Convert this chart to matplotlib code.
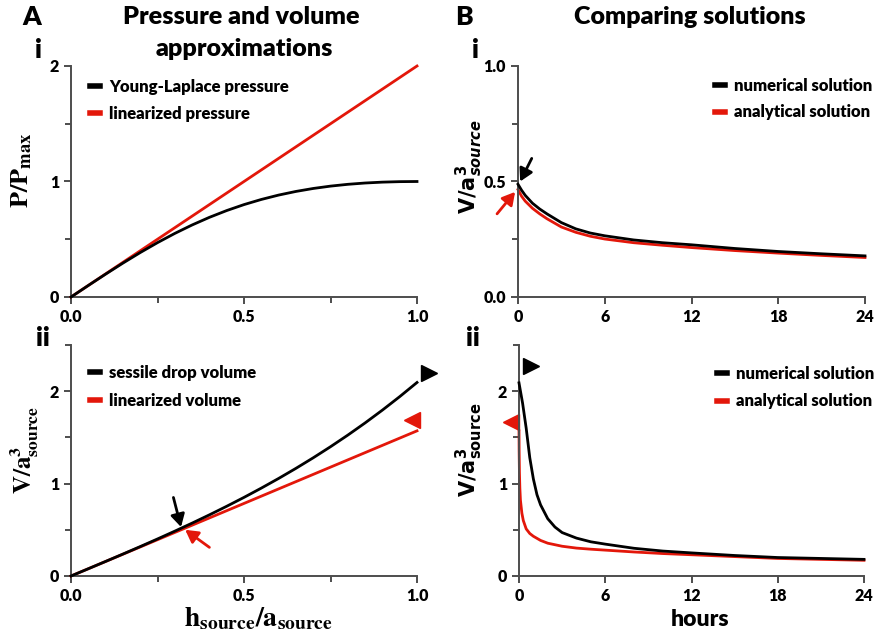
import matplotlib
matplotlib.use('Agg')
import matplotlib.pyplot as plt
from matplotlib.ticker import MultipleLocator

plt.rcParams['font.family'] = ['Lato', 'DejaVu Sans']
plt.rcParams['font.weight'] = 'heavy'

# ---------------- data ----------------
h_ratio = [0.0, 0.05, 0.1, 0.15, 0.2, 0.25, 0.3, 0.35, 0.4, 0.45, 0.5,
           0.55, 0.6, 0.65, 0.7, 0.75, 0.8, 0.85, 0.9, 0.95, 1.0]
young_laplace = [0.0, 0.0998, 0.198, 0.2934, 0.3846, 0.4706, 0.5505, 0.6236,
                 0.6897, 0.7484, 0.8, 0.8445, 0.8824, 0.9139, 0.9396, 0.96,
                 0.9756, 0.9869, 0.9945, 0.9987, 1.0]
lin_p_x = [0.0, 1.0]
lin_pressure = [0.0, 2.0]

sessile_volume = [0.0, 0.0786, 0.1576, 0.2374, 0.3183, 0.4009, 0.4854, 0.5722,
                  0.6618, 0.7546, 0.8508, 0.9511, 1.0556, 1.1648, 1.2791, 1.399,
                  1.5247, 1.6567, 1.7954, 1.9411, 2.0944]
lin_v_x = [0.0, 1.0]
lin_volume = [0.0, 1.5708]

t_i = [0, 0.25, 0.5, 1, 1.5, 2, 3, 4, 5, 6, 8, 10, 12, 15, 18, 21, 24]
num_i = [0.488, 0.462, 0.44, 0.406, 0.381, 0.36, 0.322, 0.295, 0.277, 0.265,
         0.247, 0.235, 0.226, 0.21, 0.197, 0.187, 0.178]
ana_i = [0.465, 0.436, 0.415, 0.384, 0.36, 0.339, 0.303, 0.28, 0.263, 0.251,
         0.235, 0.224, 0.214, 0.201, 0.19, 0.18, 0.171]

t_ii_num = [0, 0.25, 0.5, 0.75, 1, 1.25, 1.5, 2, 2.5, 3, 4, 5, 6, 8, 10, 12,
            15, 18, 21, 24]
num_ii = [2.09, 1.87, 1.6, 1.28, 1.05, 0.88, 0.77, 0.62, 0.53, 0.47, 0.41,
          0.37, 0.345, 0.3, 0.27, 0.25, 0.222, 0.2, 0.19, 0.18]
t_ii_ana = [0, 0.01, 0.03, 0.06, 0.1, 0.2, 0.3, 0.5, 0.75, 1, 1.5, 2, 3, 4, 5,
            6, 8, 10, 12, 15, 18, 21, 24]
ana_ii = [1.57, 1.35, 1.12, 0.95, 0.82, 0.68, 0.6, 0.51, 0.46, 0.43, 0.385,
          0.355, 0.322, 0.302, 0.29, 0.28, 0.26, 0.243, 0.23, 0.21, 0.19,
          0.18, 0.17]

RED = '#e3170a'
SPINE = '#4d4d4d'
W, H = 885, 641

fig = plt.figure(figsize=(W / 100, H / 100), dpi=100)


def add_ax(l, t, r, b):
    return fig.add_axes([l / W, 1 - b / H, (r - l) / W, (b - t) / H])


def style(ax):
    for s in ('top', 'right'):
        ax.spines[s].set_visible(False)
    for s in ('left', 'bottom'):
        ax.spines[s].set_color(SPINE)
        ax.spines[s].set_linewidth(1.4)
    ax.tick_params(which='both', direction='out', color=SPINE, width=1.4,
                   labelsize=11.5, labelcolor='black')
    ax.tick_params(which='major', length=5)
    ax.tick_params(which='minor', length=4)


def ftext(x, y, s, **kw):
    kw.setdefault('ha', 'center')
    kw.setdefault('va', 'center')
    fig.text(x / W, 1 - y / H, s, **kw)


def legend(ax, anchor, spacing, handles=None, labels=None):
    if handles is None:
        handles, labels = ax.get_legend_handles_labels()
    leg = ax.legend(handles, labels, loc='upper left', bbox_to_anchor=anchor,
                    frameon=False, handlelength=0.6, handletextpad=0.55,
                    labelspacing=spacing, prop={'size': 12, 'weight': 'heavy'},
                    borderaxespad=0, borderpad=0)
    for ln in leg.get_lines():
        ln.set_linewidth(4)


ARW = '-|>,head_length=0.75,head_width=0.42'

# ---------- A i ----------
ax1 = add_ax(71, 66, 417, 297)
style(ax1)
ax1.plot(lin_p_x, lin_pressure, color=RED, lw=2, clip_on=False,
         label='linearized pressure', zorder=2)
ax1.plot(h_ratio, young_laplace, color='black', lw=2, clip_on=False,
         label='Young-Laplace pressure', zorder=3)
ax1.set_xlim(0, 1)
ax1.set_ylim(0, 2)
ax1.xaxis.set_major_locator(MultipleLocator(0.5))
ax1.xaxis.set_minor_locator(MultipleLocator(0.25))
ax1.yaxis.set_major_locator(MultipleLocator(1))
ax1.yaxis.set_minor_locator(MultipleLocator(0.5))
h, l = ax1.get_legend_handles_labels()
legend(ax1, (0.055, 0.943), 0.62, h[::-1], l[::-1])

# ---------- A ii ----------
ax2 = add_ax(71, 345, 417, 576)
style(ax2)
ax2.plot(h_ratio, sessile_volume, color='black', lw=2, clip_on=False,
         label='sessile drop volume', zorder=3)
ax2.plot(lin_v_x, lin_volume, color=RED, lw=2, clip_on=False,
         label='linearized volume', zorder=2)
ax2.set_xlim(0, 1)
ax2.set_ylim(0, 2.5)
ax2.xaxis.set_major_locator(MultipleLocator(0.5))
ax2.xaxis.set_minor_locator(MultipleLocator(0.25))
ax2.yaxis.set_major_locator(MultipleLocator(1))
ax2.yaxis.set_minor_locator(MultipleLocator(0.5))
legend(ax2, (0.055, 0.913), 0.72)
ax2.plot([1.035], [2.2], marker='>', color='black', ms=11, clip_on=False)
ax2.plot([0.985], [1.69], marker='<', color=RED, ms=11, clip_on=False)
ax2.annotate('', xy=(0.318, 0.53), xytext=(0.296, 0.85),
             arrowprops=dict(arrowstyle=ARW, color='black', lw=2,
                             shrinkA=0, shrinkB=0))
ax2.annotate('', xy=(0.33, 0.50), xytext=(0.40, 0.31),
             arrowprops=dict(arrowstyle=ARW, color=RED, lw=2,
                             shrinkA=0, shrinkB=0))

# ---------- B i ----------
ax3 = add_ax(518, 66, 865, 297)
style(ax3)
ax3.plot(t_i, num_i, color='black', lw=2, clip_on=False,
         label='numerical solution', zorder=3)
ax3.plot(t_i, ana_i, color=RED, lw=2, clip_on=False,
         label='analytical solution', zorder=2)
ax3.set_xlim(0, 24)
ax3.set_ylim(0, 1)
ax3.xaxis.set_major_locator(MultipleLocator(6))
ax3.yaxis.set_major_locator(MultipleLocator(0.5))
ax3.yaxis.set_minor_locator(MultipleLocator(0.25))
legend(ax3, (0.568, 0.948), 0.62)
ax3.annotate('', xy=(0.15, 0.50), xytext=(0.95, 0.60),
             arrowprops=dict(arrowstyle=ARW, color='black', lw=2,
                             shrinkA=0, shrinkB=0))
ax3.annotate('', xy=(-0.2, 0.455), xytext=(-1.45, 0.36),
             arrowprops=dict(arrowstyle=ARW, color=RED, lw=2,
                             shrinkA=0, shrinkB=0),
             annotation_clip=False)

# ---------- B ii ----------
ax4 = add_ax(519, 345, 864, 576)
style(ax4)
ax4.plot(t_ii_num, num_ii, color='black', lw=2, clip_on=False,
         label='numerical solution', zorder=3)
ax4.plot(t_ii_ana, ana_ii, color=RED, lw=2, clip_on=False,
         label='analytical solution', zorder=2)
ax4.set_xlim(0, 24)
ax4.set_ylim(0, 2.5)
ax4.xaxis.set_major_locator(MultipleLocator(6))
ax4.yaxis.set_major_locator(MultipleLocator(1))
ax4.yaxis.set_minor_locator(MultipleLocator(0.5))
legend(ax4, (0.574, 0.909), 0.68)
ax4.plot([0.85], [2.27], marker='>', color='black', ms=11, clip_on=False)
ax4.plot([-0.55], [1.67], marker='<', color=RED, ms=11, clip_on=False)

# ---------- texts ----------
ftext(32, 17, 'A', fontsize=19)
ftext(464, 17, 'B', fontsize=19)
ftext(38, 50, 'i', fontsize=19)
ftext(43, 338, 'ii', fontsize=19)
ftext(475, 50, 'i', fontsize=19)
ftext(473, 338, 'ii', fontsize=19)
ftext(241, 17, 'Pressure and volume', fontsize=18.1)
ftext(244, 49, 'approximations', fontsize=18.1)
ftext(690, 17, 'Comparing solutions', fontsize=18)

ftext(22, 170, r'$\mathbf{P/P_{max}}$', fontsize=19, rotation=90,
      math_fontfamily='stix')
ftext(25, 450, r'$\mathbf{V/a^3_{source}}$', fontsize=18, rotation=90,
      math_fontfamily='stix')
ftext(469, 167, r'$\mathbf{V/a}^{\mathbf{3}}_{source}$', fontsize=15,
      rotation=90, math_fontfamily='dejavusans')
ftext(469, 450, r'$\mathbf{V/a^3_{source}}$', fontsize=15, rotation=90,
      math_fontfamily='dejavusans')
ftext(258, 619, r'$\mathbf{h_{source}/a_{source}}$', fontsize=20,
      math_fontfamily='stix')
ftext(700, 619, 'hours', fontsize=16.5)

fig.savefig('out.png', dpi=100)
